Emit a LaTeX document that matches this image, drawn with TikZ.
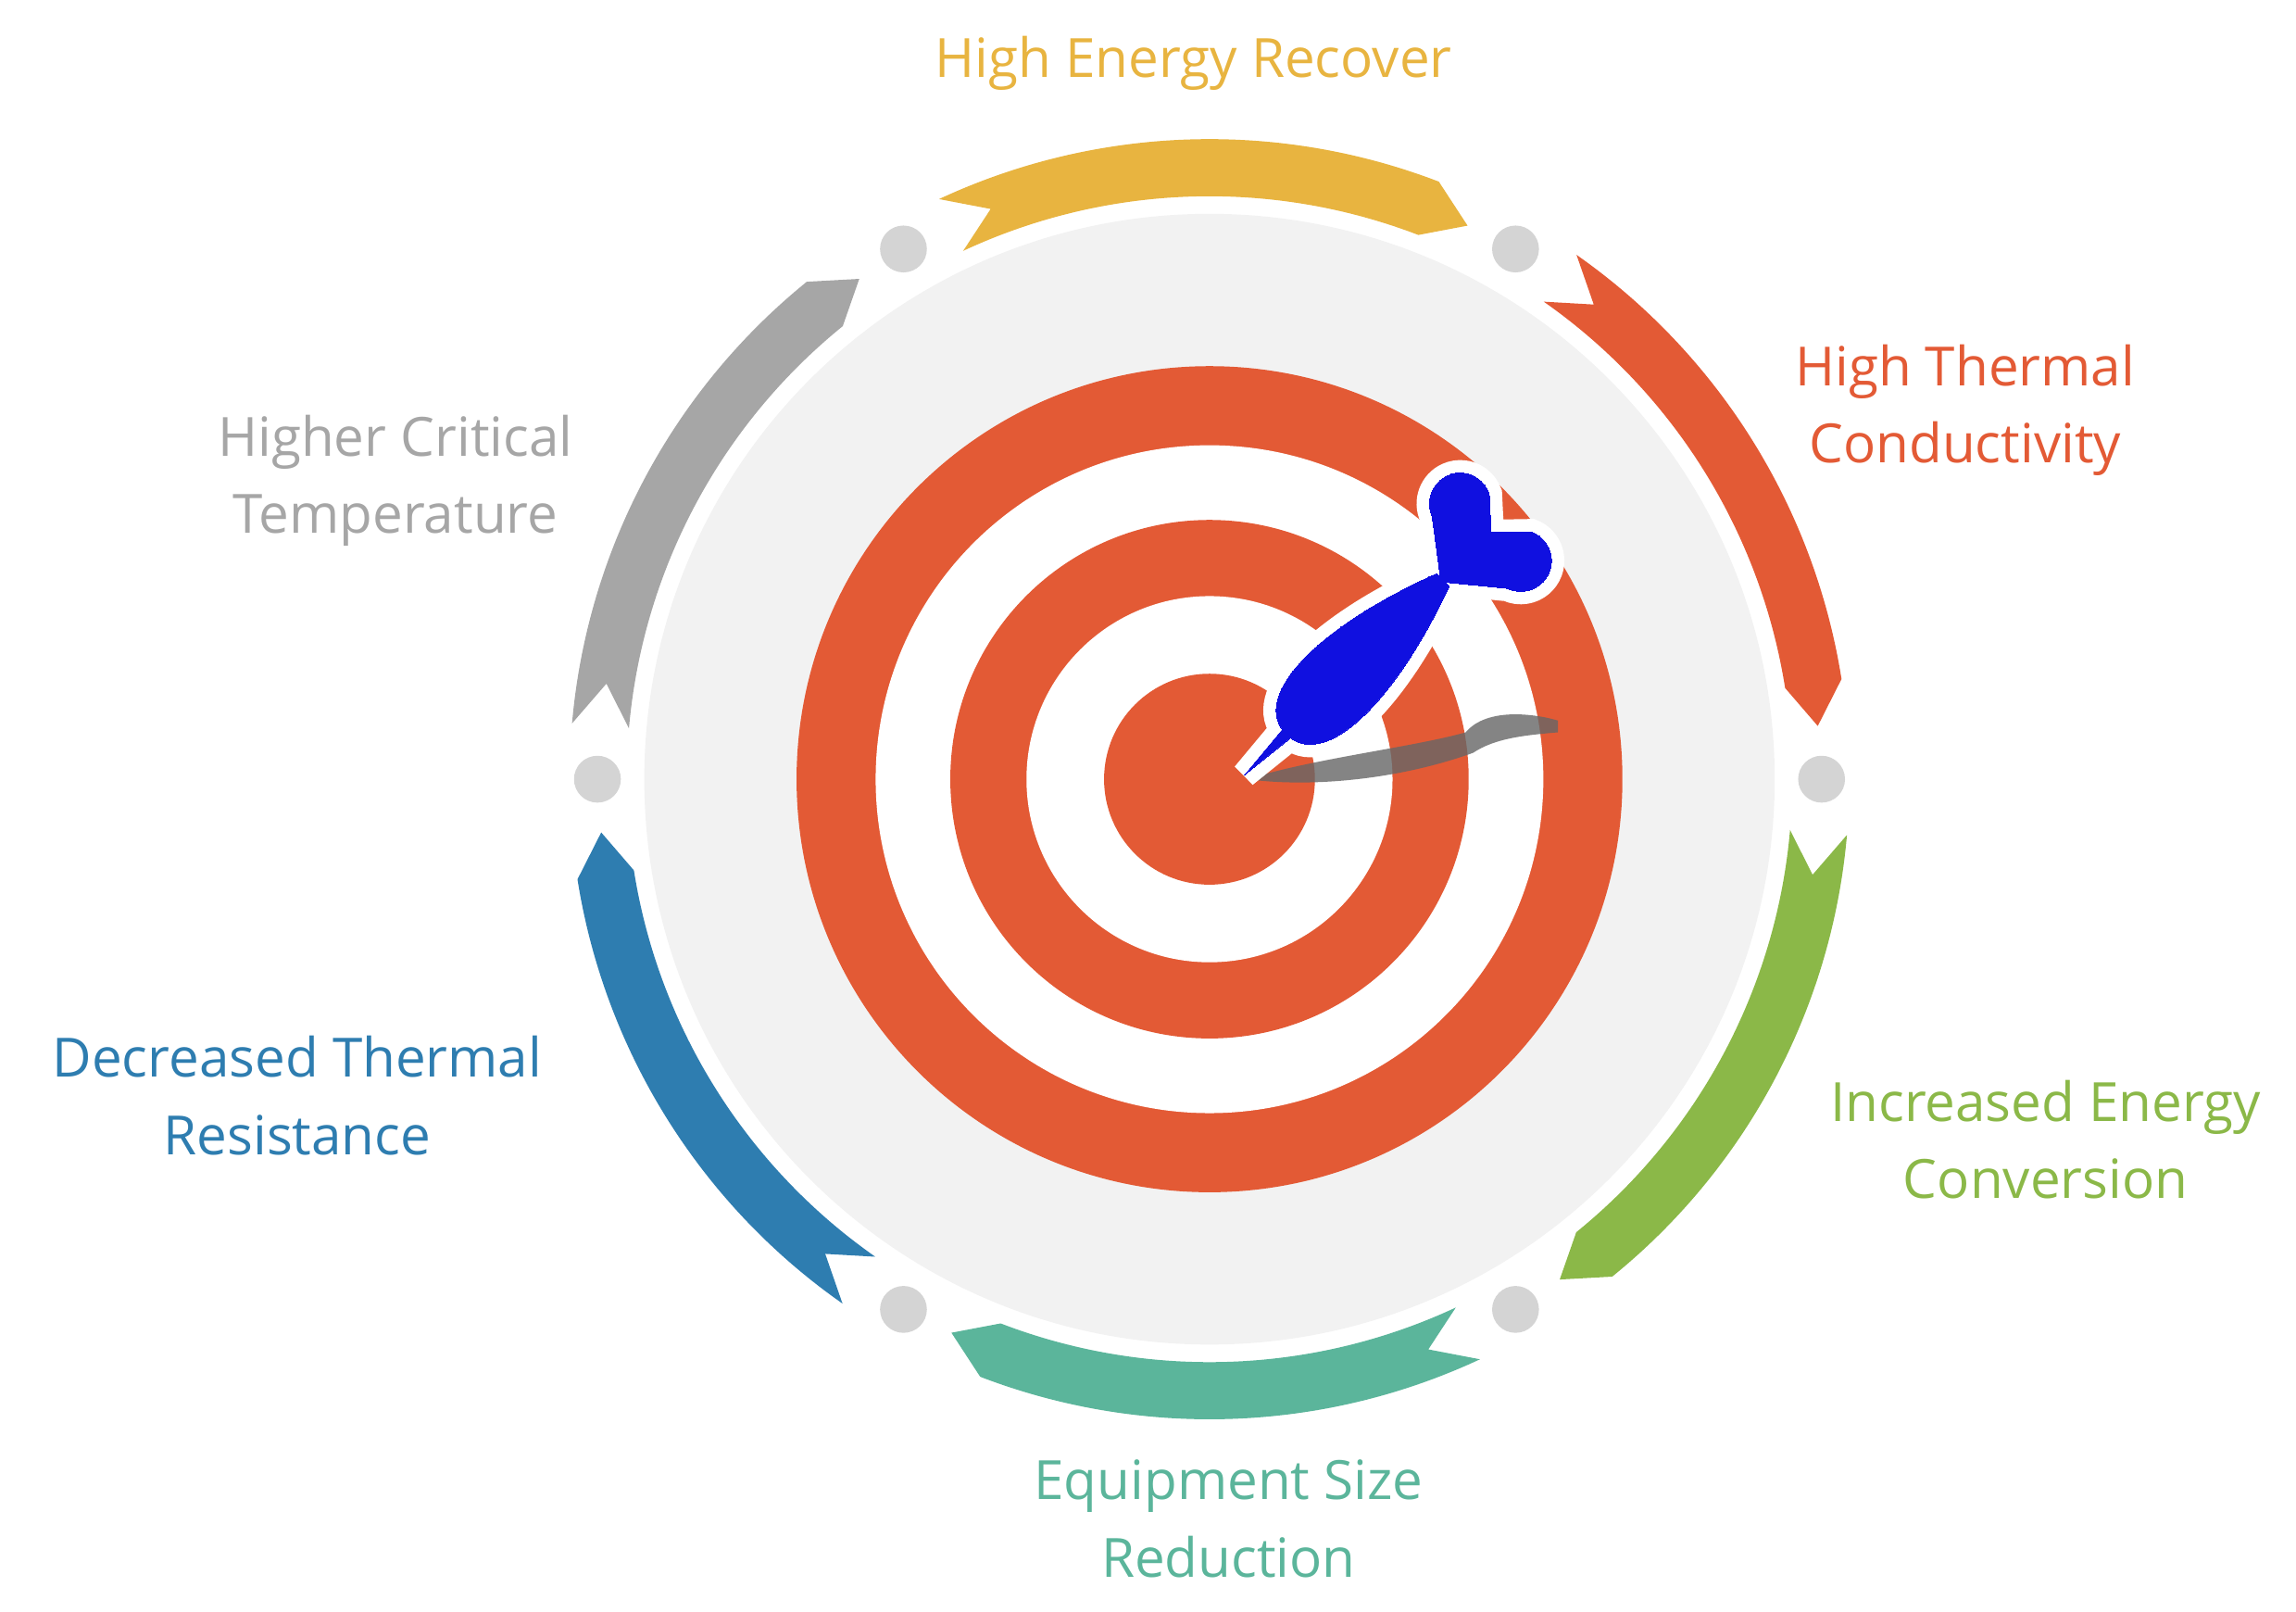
\documentclass[tikz,border=0pt]{standalone}
\usepackage{fontspec}
\setmainfont{Open Sans}

\definecolor{cYellow}{HTML}{E8B440}
\definecolor{cRed}{HTML}{E35A35}
\definecolor{cGreen}{HTML}{8BB848}
\definecolor{cTeal}{HTML}{5BB59B}
\definecolor{cBlue}{HTML}{2E7DB0}
\definecolor{cGrey}{HTML}{A6A6A6}
\definecolor{cDart}{HTML}{1010E0}

\tikzset{
  lbl/.style={align=center, font=\fontsize{10.5}{15}\selectfont},
  dot/.style={fill=black!17},
}
% arc arrow: #1 colour, #2 tail angle, #3 head angle
\newcommand{\ringarrow}[3]{%
  \fill[#1] (#2:437) arc[start angle=#2, end angle=#3+4, radius=437]
    -- (#3:417) -- (#3+4:398) arc[start angle=#3+4, end angle=#2, radius=398]
    -- (#2-4:417) -- cycle;}

\begin{document}
\begin{tikzpicture}[x=0.01cm,y=0.01cm]
  \useasboundingbox (0,0) rectangle (1568,1100);
  \begin{scope}[shift={(826,568)}]
    %%%%%%%%%%%%%%
    %  Backdrop  %
    %%%%%%%%%%%%%%
    \fill[black!5] (0,0) circle[radius=386];
    \fill[cRed] (0,0) circle[radius=282];
    \fill[white] (0,0) circle[radius=228];
    \fill[cRed] (0,0) circle[radius=177];
    \fill[white] (0,0) circle[radius=125];
    \fill[cRed] (0,0) circle[radius=72];
    %%%%%%%%%%%%
    %  Arrows  %
    %%%%%%%%%%%%
    \ringarrow{cYellow}{115}{65}
    \ringarrow{cRed}{55}{5}
    \ringarrow{cGreen}{-5}{-55}
    \ringarrow{cTeal}{-65}{-115}
    \ringarrow{cBlue}{-125}{-175}
    \ringarrow{cGrey}{175}{125}
    \foreach \a in {0,60,...,300}
      \fill[dot] (\a:418) circle[radius=16];
    %%%%%%%%%%
    %  Dart  %
    %%%%%%%%%%
    \fill[black!60, opacity=0.8] (26,0) .. controls (70,14) and (140,22) .. (175,32)
      .. controls (190,50) and (225,44) .. (238,40) -- (238,32)
      .. controls (215,30) and (195,28) .. (180,18) .. controls (130,0) and (70,-6) .. cycle;
    \begin{scope}[shift={(24,3)}, rotate=44.5]
      \foreach \w/\c in {5/white, 0/cDart}{
        \filldraw[\c, draw=\c, line width=\w pt] (0,0) -- (40,4) .. controls (45,36) and (110,36) .. (190,6)
          -- (190,-6) .. controls (110,-36) and (45,-36) .. (40,-4) -- cycle;
        \filldraw[\c, draw=\c, line width=\w pt] (188,0) -- (215,36)
          arc[start angle=160, end angle=-25, radius=21] -- (236,0)
          -- (256,-19) arc[start angle=25, end angle=-160, radius=21] -- cycle;
      }
    \end{scope}
  \end{scope}
  %%%%%%%%%%%%
  %  Labels  %
  %%%%%%%%%%%%
  \node[lbl, text=cYellow] (recover) at (815,1057) {High Energy Recover};
  \node[lbl, text=cRed] (conduct) at (1342,820) {High Thermal\\Conductivity};
  \node[lbl, text=cGreen] (convert) at (1397,322) {Increased Energy\\Conversion};
  \node[lbl, text=cTeal] (size) at (839,063) {Equipment Size\\Reduction};
  \node[lbl, text=cBlue] (resist) at (203,352) {Decreased Thermal\\Resistance};
  \node[lbl, text=cGrey] (crit) at (270,772) {Higher Critical\\Temperature};
\end{tikzpicture}
\end{document}
